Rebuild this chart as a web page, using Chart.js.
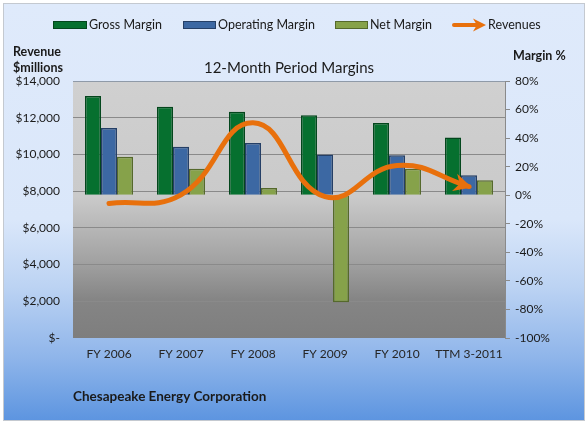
<!DOCTYPE html>
<html><head><meta charset="utf-8">
<script src="https://cdn.jsdelivr.net/npm/chart.js@4.4.0/dist/chart.umd.min.js"></script>
<style>html,body{margin:0;padding:0;background:#fff;overflow:hidden}#wrap{width:588px;height:422px}</style>
</head><body>
<div id="wrap"><canvas id="c"></canvas></div>
<script>
const categories = ['FY 2006', 'FY 2007', 'FY 2008', 'FY 2009', 'FY 2010', 'TTM 3-2011'];
const grossMargin = [69.5, 62, 58.5, 56, 50.5, 40.5];
const operatingMargin = [47, 34, 36.5, 28.5, 28, 14];
const netMargin = [27, 18.5, 5, -75, 18.5, 10.5];
const revenues = [7330, 7800, 11720, 7700, 9400, 8250];
const revenueMin = 0, revenueMax = 14000, revenueStep = 2000;
const marginMin = -100, marginMax = 80, marginStep = 20;

const FONT = 'Lato, "Open Sans", sans-serif';
const COLORS = {
  gross: '#06702f', grossB: '#03461c',
  op: '#3c68a3', opB: '#253f66',
  net: '#86a24a', netB: '#55692c',
  rev: '#e8700c'
};

const bgPlugin = {
  id: 'bg',
  beforeDraw(chart) {
    const {ctx, chartArea: a, width, height} = chart;
    ctx.save();
    ctx.fillStyle = '#ffffff';
    ctx.fillRect(0, 0, width, height);
    const g = ctx.createLinearGradient(0, 3, 0, 420);
    g.addColorStop(0, '#dfeafb');
    g.addColorStop(0.52, '#dae7fa');
    g.addColorStop(0.68, '#bcd3f3');
    g.addColorStop(0.85, '#8fb5ea');
    g.addColorStop(1, '#5d95e0');
    ctx.fillStyle = g;
    ctx.fillRect(3, 3, 582, 418);
    ctx.strokeStyle = '#c4c9d0';
    ctx.lineWidth = 1;
    ctx.strokeRect(3.5, 3.5, 581, 417);
    const pg = ctx.createLinearGradient(0, a.top, 0, a.bottom);
    pg.addColorStop(0, '#d0d0d0');
    pg.addColorStop(0.45, '#cacaca');
    pg.addColorStop(0.7, '#a2a2a2');
    pg.addColorStop(0.85, '#858585');
    pg.addColorStop(1, '#7e7e7e');
    ctx.fillStyle = pg;
    ctx.fillRect(a.left, a.top, a.right - a.left, a.bottom - a.top);
    ctx.restore();
  }
};

function drawArrowHead(ctx, tipX, tipY, dx, dy, len, half, color) {
  const n = Math.hypot(dx, dy) || 1;
  const ux = dx / n, uy = dy / n;
  const bx = tipX - ux * len, by = tipY - uy * len;
  ctx.beginPath();
  ctx.moveTo(tipX, tipY);
  ctx.lineTo(bx - uy * half, by + ux * half);
  ctx.lineTo(tipX - ux * len * 0.7, tipY - uy * len * 0.7);
  ctx.lineTo(bx + uy * half, by - ux * half);
  ctx.closePath();
  ctx.fillStyle = color;
  ctx.fill();
}

const arrowPlugin = {
  id: 'arrow',
  afterDatasetsDraw(chart) {
    const meta = chart.getDatasetMeta(3);
    const pts = meta.data;
    if (!pts || pts.length < 2) return;
    const last = pts[pts.length - 1];
    const dx = last.x - last.cp1x, dy = last.y - last.cp1y;
    const n = Math.hypot(dx, dy) || 1;
    const ctx = chart.ctx;
    ctx.save();
    drawArrowHead(ctx, last.x + dx / n * 3, last.y + dy / n * 3, dx, dy, 18, 9, COLORS.rev);
    ctx.restore();
  }
};

function legendBox(ctx, x, y, w, h, fill, border) {
  ctx.fillStyle = fill;
  ctx.fillRect(x, y, w, h);
  ctx.strokeStyle = border;
  ctx.lineWidth = 1;
  ctx.strokeRect(x + 0.5, y + 0.5, w - 1, h - 1);
}

const textPlugin = {
  id: 'texts',
  afterDraw(chart) {
    const ctx = chart.ctx;
    const a = chart.chartArea;
    ctx.save();
    ctx.fillStyle = '#1a1a1a';
    ctx.textBaseline = 'middle';
    ctx.font = '15px ' + FONT;
    ctx.textAlign = 'center';
    ctx.fillText('12-Month Period Margins', (a.left + a.right) / 2, 68);
    ctx.font = 'bold 12.5px ' + FONT;
    ctx.textAlign = 'left';
    ctx.fillText('Revenue', 13, 52);
    ctx.fillText('$millions', 13, 68);
    ctx.fillText('Margin %', 513, 56);
    ctx.font = 'bold 13.5px ' + FONT;
    ctx.fillText('Chesapeake Energy Corporation', 73, 397);
    ctx.font = '12.5px ' + FONT;
    const ly = 25;
    legendBox(ctx, 53, ly - 4, 34, 8, COLORS.gross, COLORS.grossB);
    ctx.fillStyle = '#1a1a1a';
    ctx.fillText('Gross Margin', 89, ly);
    legendBox(ctx, 183, ly - 4, 33, 8, COLORS.op, COLORS.opB);
    ctx.fillStyle = '#1a1a1a';
    ctx.fillText('Operating Margin', 218, ly);
    legendBox(ctx, 335, ly - 4, 33, 8, COLORS.net, COLORS.netB);
    ctx.fillStyle = '#1a1a1a';
    ctx.fillText('Net Margin', 370, ly);
    ctx.strokeStyle = COLORS.rev;
    ctx.lineWidth = 4;
    ctx.lineCap = 'round';
    ctx.beginPath();
    ctx.moveTo(454, ly);
    ctx.lineTo(476, ly);
    ctx.stroke();
    drawArrowHead(ctx, 486, ly, 1, 0, 13, 6.5, COLORS.rev);
    ctx.fillStyle = '#1a1a1a';
    ctx.fillText('Revenues', 488, ly);
    ctx.restore();
  }
};

new Chart(document.getElementById('c'), {
  data: {
    labels: categories,
    datasets: [
      {type: 'bar', label: 'Gross Margin', data: grossMargin, yAxisID: 'yM',
       backgroundColor: COLORS.gross, borderColor: COLORS.grossB, borderWidth: 1.5, order: 2},
      {type: 'bar', label: 'Operating Margin', data: operatingMargin, yAxisID: 'yM',
       backgroundColor: COLORS.op, borderColor: COLORS.opB, borderWidth: 1.5, order: 2},
      {type: 'bar', label: 'Net Margin', data: netMargin, yAxisID: 'yM',
       backgroundColor: COLORS.net, borderColor: COLORS.netB, borderWidth: 1.5, order: 2},
      {type: 'line', label: 'Revenues', data: revenues, yAxisID: 'yR',
       borderColor: COLORS.rev, borderWidth: 5, tension: 0.45, pointRadius: 0,
       borderCapStyle: 'round', fill: false, order: 0}
    ]
  },
  options: {
    responsive: true,
    maintainAspectRatio: false,
    animation: false,
    layout: {padding: {top: 81, left: 0, right: 0, bottom: 0}},
    datasets: {bar: {categoryPercentage: 0.667, barPercentage: 1}},
    plugins: {legend: {display: false}, title: {display: false}, tooltip: {enabled: false}},
    scales: {
      x: {
        grid: {display: false, drawTicks: false},
        border: {display: false},
        ticks: {font: {family: FONT, size: 12}, color: '#262626', padding: 9,
                maxRotation: 0, minRotation: 0, autoSkip: false},
        afterFit(s) { s.height = 84; }
      },
      yR: {
        position: 'left',
        min: revenueMin, max: revenueMax,
        ticks: {
          stepSize: revenueStep, padding: 13, color: '#1a1a1a',
          font: {family: FONT, size: 12},
          callback: v => v === 0 ? '$-' : '$' + v.toLocaleString('en-US')
        },
        grid: {
          drawTicks: false,
          color: ctx => ctx.index === 0 ? 'rgba(0,0,0,0)' : (ctx.index === 7 ? '#8f9aa8' : '#8a8a8a'),
          lineWidth: 1
        },
        border: {display: false},
        afterFit(s) { s.width = 73; }
      },
      yM: {
        position: 'right',
        min: marginMin, max: marginMax,
        ticks: {
          stepSize: marginStep, padding: 5, color: '#1a1a1a',
          font: {family: FONT, size: 12},
          callback: v => v + '%'
        },
        grid: {drawOnChartArea: false, drawTicks: true, tickLength: 5, color: '#8a8a8a'},
        border: {display: true, color: '#8a8a8a'},
        afterFit(s) { s.width = 83; }
      }
    }
  },
  plugins: [bgPlugin, arrowPlugin, textPlugin]
});
</script>
</body></html>
